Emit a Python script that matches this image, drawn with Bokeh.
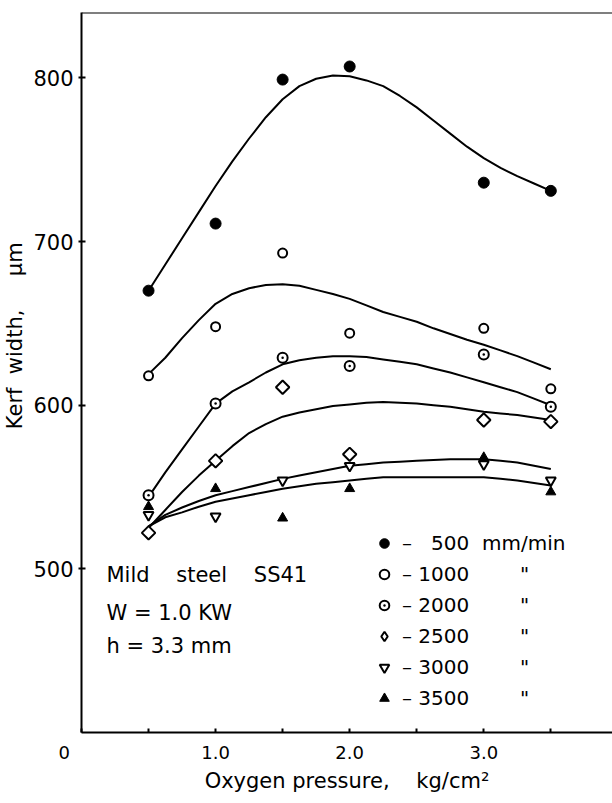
from bokeh.plotting import figure
from bokeh.models import (Range1d, FixedTicker, LinearAxis, Label, Legend, LegendItem,
                          Span, PrintfTickFormatter)
from bokeh.embed import file_html
from bokeh.resources import INLINE
import math

FONT = "DejaVu Sans"
NB = "\u00a0"

# ---- measured points (oxygen pressure kg/cm^2 -> kerf width um) ----
pressure = [0.5, 1.0, 1.5, 2.0, 3.0, 3.5]
kerf_500 = [670, 711, 799, 807, 736, 731]
kerf_1000 = [618, 648, 693, 644, 647, 610]
kerf_2000 = [545, 601, 629, 624, 631, 599]
kerf_2500 = [522, 566, 611, 570, 591, 590]
kerf_3000 = [533, 532, 554, 563, 564, 554]
kerf_3500 = [538, 549, 531, 549, 568, 547]

# ---- fitted curves, every 0.125 kg/cm^2 ----
curve_x = [0.5, 0.625, 0.75, 0.875, 1.0, 1.125, 1.25, 1.375, 1.5, 1.625, 1.75, 1.875,
           2.0, 2.125, 2.25, 2.375, 2.5, 2.625, 2.75, 2.875, 3.0, 3.125, 3.25, 3.375, 3.5]
curve_500 = [670, 686, 702, 718, 734, 749, 763, 776, 787, 795, 799.5, 801.5,
             801, 798.5, 795, 789, 782, 774, 766, 758, 751, 745, 740, 735.5, 731]
curve_1000 = [619, 629, 641, 652, 662, 668, 671.5, 673.5, 674, 673, 670.5, 668,
              665, 661, 657, 654, 651, 647, 643.5, 640, 637, 633.5, 630, 626, 622]
curve_2000 = [544, 559, 573, 587, 601, 608.5, 614, 620, 625, 627.5, 629, 630,
              630, 629.5, 628, 626.5, 625, 622.5, 620, 617, 614, 611, 608, 604, 600]
curve_2500 = [525, 536, 547, 557, 566, 575, 583, 588.5, 593, 595.5, 597.5, 599.5,
              600.5, 601.5, 602, 601.5, 601, 600, 599, 597.5, 596, 595, 594, 592.5, 591]
curve_3000 = [526, 533, 537.5, 541.5, 545, 547.5, 550, 552.5, 555, 557, 559, 561,
              563, 564, 565, 565.5, 566, 566.5, 567, 567, 567, 566, 565, 563, 561]
curve_3500 = [526, 531.5, 534.5, 538, 541, 543, 545, 547, 549, 550.5, 552, 553,
              554, 555, 556, 556, 556, 556, 556, 556, 556, 555, 554, 552.5, 551]

x_ticks = [0.0, 1.0, 2.0, 3.0]
x_minor_ticks = [0.5, 1.5, 2.5, 3.5]
y_ticks = [500, 600, 700, 800]

legend_labels = [
    "\u2013" + NB + "\u2007500" + NB * 2 + "mm/min",
    "\u2013" + NB + "1000" + NB * 8 + "\"",
    "\u2013" + NB + "2000" + NB * 8 + "\"",
    "\u2013" + NB + "2500" + NB * 8 + "\"",
    "\u2013" + NB + "3000" + NB * 8 + "\"",
    "\u2013" + NB + "3500" + NB * 8 + "\"",
]
notes = ["Mild" + NB * 4 + "steel" + NB * 4 + "SS41", "W = 1.0 KW", "h = 3.3 mm"]

p = figure(width=612, height=803, x_range=Range1d(0, 3.96), y_range=Range1d(400, 840),
           x_axis_type=None, y_axis_type=None, output_backend="svg", toolbar_location=None,
           min_border_left=80, min_border_right=0, min_border_top=12, min_border_bottom=71)
p.outline_line_color = None
p.background_fill_color = "white"
p.border_fill_color = "white"

xaxis = LinearAxis(ticker=FixedTicker(ticks=x_ticks, minor_ticks=x_minor_ticks),
                   formatter=PrintfTickFormatter(format="%.1f"),
                   major_label_overrides={0.0: "0" + NB * 6},
                   axis_label="Oxygen" + NB + "pressure," + NB * 4 + "kg/cm\u00b2")
xaxis.axis_line_width = 2
xaxis.major_tick_in = 4
xaxis.major_tick_out = 0
xaxis.minor_tick_in = 4
xaxis.minor_tick_out = 0
xaxis.major_tick_line_width = 2
xaxis.minor_tick_line_width = 2
xaxis.major_label_text_font = FONT
xaxis.major_label_text_font_size = "18px"
xaxis.major_label_text_color = "black"
xaxis.major_label_standoff = 9
xaxis.axis_label_text_font = FONT
xaxis.axis_label_text_font_size = "21px"
xaxis.axis_label_text_font_style = "normal"
xaxis.axis_label_text_color = "black"
xaxis.axis_label_standoff = 3
p.add_layout(xaxis, "below")

yaxis = LinearAxis(ticker=FixedTicker(ticks=y_ticks, minor_ticks=[]),
                   axis_label=NB * 11 + "Kerf" + NB * 2 + "width," + NB * 5 + "\u03bcm")
yaxis.axis_line_width = 2
yaxis.major_tick_in = 4
yaxis.major_tick_out = 3
yaxis.major_tick_line_width = 2
yaxis.minor_tick_in = 0
yaxis.minor_tick_out = 0
yaxis.major_label_text_font = FONT
yaxis.major_label_text_font_size = "21px"
yaxis.major_label_text_color = "black"
yaxis.major_label_standoff = 5
yaxis.axis_label_text_font = FONT
yaxis.axis_label_text_font_size = "21px"
yaxis.axis_label_text_font_style = "normal"
yaxis.axis_label_text_color = "black"
yaxis.axis_label_standoff = 3
p.add_layout(yaxis, "left")

p.add_layout(Span(location=840, dimension="width", line_color="black", line_width=2))

for cv in [curve_500, curve_1000, curve_2000, curve_2500, curve_3000, curve_3500]:
    p.line(curve_x, cv, line_color="black", line_width=2, line_join="round")

r500 = p.scatter(pressure, kerf_500, marker="circle", size=11,
                 fill_color="black", line_color="black", line_width=1)
r1000 = p.scatter(pressure, kerf_1000, marker="circle", size=9,
                  fill_color="white", line_color="black", line_width=2)
r2000 = p.scatter(pressure, kerf_2000, marker="circle_dot", size=10,
                  fill_color="white", line_color="black", line_width=2)
# open diamonds drawn as squares turned by 45 degrees
r2500 = p.scatter(pressure, kerf_2500, marker="square", size=9.5, angle=math.pi / 4,
                  fill_color="white", line_color="black", line_width=2)
# legend swatch for the diamonds (legend glyphs are never rotated)
r2500_key = p.scatter(pressure, kerf_2500, marker="diamond", size=15,
                      fill_color="white", line_color="black", line_width=2, visible=False)
r3000 = p.scatter(pressure, kerf_3000, marker="inverted_triangle", size=10,
                  fill_color="white", line_color="black", line_width=2)
r3500 = p.scatter(pressure, kerf_3500, marker="triangle", size=10,
                  fill_color="black", line_color="black", line_width=1)

rends = [r500, r1000, r2000, r2500_key, r3000, r3500]
legend = Legend(items=[LegendItem(label=lab, renderers=[r]) for lab, r in zip(legend_labels, rends)],
                location=(291, 22), orientation="vertical",
                border_line_color=None, background_fill_alpha=0,
                inactive_fill_alpha=0,
                padding=0, margin=0, spacing=7, glyph_width=24, glyph_height=24,
                label_height=24, label_standoff=6,
                label_text_font=FONT, label_text_font_size="20px",
                label_text_color="black")
p.add_layout(legend)

note_y = [496, 473, 453]
for t, yy in zip(notes, note_y):
    p.add_layout(Label(x=0.186, y=yy, text=t, text_align="left", text_baseline="middle",
                       text_font=FONT, text_font_size="21px", text_color="black"))

open("out.html", "w").write(file_html(p, INLINE))
